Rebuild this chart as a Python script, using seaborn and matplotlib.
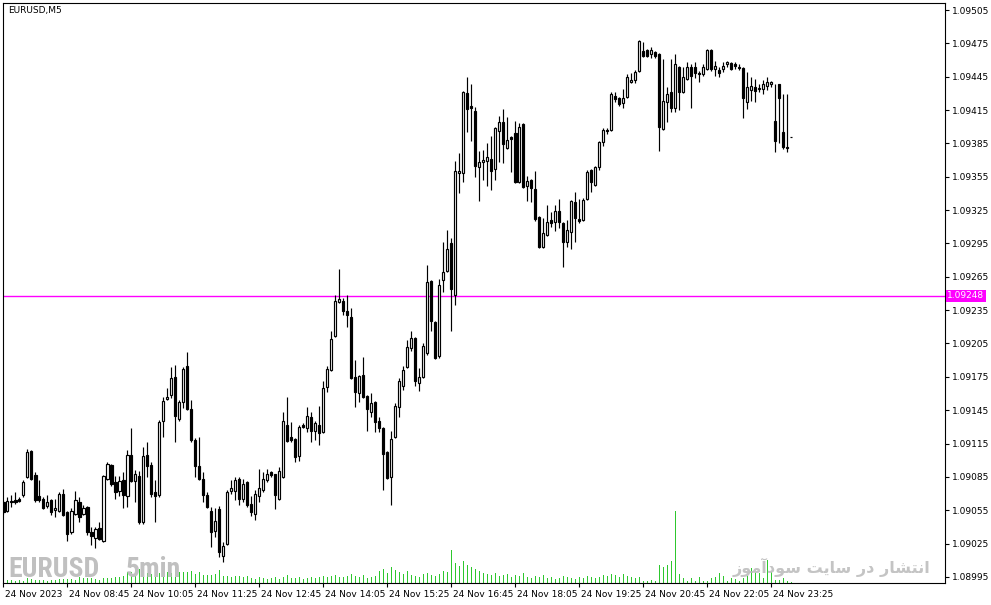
import numpy as np
import pandas as pd
import matplotlib
matplotlib.use("Agg")
import matplotlib.pyplot as plt
import matplotlib.transforms as mtransforms
import seaborn as sns

symbol_title = "EURUSD,M5"
time_labels = ["24 Nov 2023", "24 Nov 08:45", "24 Nov 10:05", "24 Nov 11:25", "24 Nov 12:45",
               "24 Nov 14:05", "24 Nov 15:25", "24 Nov 16:45", "24 Nov 18:05", "24 Nov 19:25",
               "24 Nov 20:45", "24 Nov 22:05", "24 Nov 23:25"]
time_label_bars = [0, 16, 32, 48, 64, 80, 96, 112, 128, 144, 160, 176, 192]
price_ticks = [1.08995, 1.09025, 1.09055, 1.09085, 1.09115, 1.09145, 1.09175, 1.09205, 1.09235,
               1.09265, 1.09295, 1.09325, 1.09355, 1.09385, 1.09415, 1.09445, 1.09475, 1.09505]
bid_price = 1.09248
watermark_symbol = "EURUSD"
watermark_tf = "5min"
watermark_fa = "انتشار در سایت سودآموز"

open_ = [
1.09062, 1.09054, 1.09062, 1.09064, 1.09065, 1.09069, 1.09085, 1.09108, 1.09087, 1.09068,
1.09065, 1.09059, 1.09064, 1.09055, 1.09054, 1.09070, 1.09053, 1.09035, 1.09052, 1.09062,
1.09052, 1.09058, 1.09035, 1.09030, 1.09039, 1.09027, 1.09083, 1.09096, 1.09080, 1.09072,
1.09082, 1.09068, 1.09105, 1.09081, 1.09086, 1.09044, 1.09105, 1.09096, 1.09071, 1.09069,
1.09135, 1.09155, 1.09159, 1.09175, 1.09137, 1.09152, 1.09185, 1.09146, 1.09118, 1.09095,
1.09083, 1.09069, 1.09054, 1.09036, 1.09056, 1.09014, 1.09025, 1.09072, 1.09072, 1.09083,
1.09065, 1.09080, 1.09061, 1.09052, 1.09068, 1.09073, 1.09082, 1.09089, 1.09088, 1.09065,
1.09085, 1.09132, 1.09121, 1.09119, 1.09104, 1.09132, 1.09129, 1.09139, 1.09126, 1.09132,
1.09125, 1.09166, 1.09181, 1.09212, 1.09242, 1.09243, 1.09234, 1.09229, 1.09175, 1.09160,
1.09177, 1.09158, 1.09143, 1.09152, 1.09135, 1.09129, 1.09107, 1.09085, 1.09121, 1.09148,
1.09167, 1.09184, 1.09201, 1.09210, 1.09169, 1.09175, 1.09196, 1.09261, 1.09224, 1.09194,
1.09262, 1.09270, 1.09295, 1.09249, 1.09358, 1.09358, 1.09430, 1.09419, 1.09414, 1.09364,
1.09368, 1.09369, 1.09371, 1.09362, 1.09396, 1.09404, 1.09381, 1.09391, 1.09394, 1.09350,
1.09402, 1.09347, 1.09352, 1.09344, 1.09319, 1.09292, 1.09303, 1.09316, 1.09314, 1.09324,
1.09313, 1.09296, 1.09305, 1.09332, 1.09317, 1.09316, 1.09335, 1.09361, 1.09348, 1.09364,
1.09386, 1.09397, 1.09397, 1.09428, 1.09426, 1.09421, 1.09427, 1.09440, 1.09442, 1.09450,
1.09468, 1.09469, 1.09465, 1.09467, 1.09465, 1.09398, 1.09422, 1.09431, 1.09417, 1.09454,
1.09431, 1.09443, 1.09454, 1.09454, 1.09448, 1.09447, 1.09452, 1.09469, 1.09452, 1.09451,
1.09452, 1.09456, 1.09457, 1.09456, 1.09454, 1.09453, 1.09422, 1.09433, 1.09436, 1.09434,
1.09434, 1.09437, 1.09438, 1.09405, 1.09438, 1.09395, 1.09382, 1.09391]

high = [
1.09063, 1.09067, 1.09069, 1.09071, 1.09067, 1.09082, 1.09110, 1.09109, 1.09089, 1.09082,
1.09067, 1.09069, 1.09065, 1.09065, 1.09071, 1.09074, 1.09054, 1.09057, 1.09072, 1.09067,
1.09060, 1.09059, 1.09040, 1.09040, 1.09044, 1.09087, 1.09098, 1.09097, 1.09086, 1.09086,
1.09089, 1.09109, 1.09129, 1.09091, 1.09090, 1.09112, 1.09116, 1.09098, 1.09082, 1.09136,
1.09157, 1.09165, 1.09184, 1.09186, 1.09154, 1.09184, 1.09197, 1.09154, 1.09120, 1.09121,
1.09089, 1.09071, 1.09058, 1.09057, 1.09059, 1.09026, 1.09073, 1.09082, 1.09085, 1.09085,
1.09083, 1.09081, 1.09068, 1.09073, 1.09092, 1.09089, 1.09092, 1.09090, 1.09088, 1.09094,
1.09143, 1.09157, 1.09134, 1.09120, 1.09132, 1.09133, 1.09148, 1.09143, 1.09135, 1.09149,
1.09171, 1.09185, 1.09216, 1.09249, 1.09272, 1.09246, 1.09249, 1.09237, 1.09190, 1.09177,
1.09193, 1.09159, 1.09160, 1.09153, 1.09139, 1.09130, 1.09108, 1.09126, 1.09151, 1.09174,
1.09185, 1.09208, 1.09216, 1.09211, 1.09183, 1.09205, 1.09276, 1.09262, 1.09225, 1.09263,
1.09296, 1.09307, 1.09300, 1.09369, 1.09376, 1.09432, 1.09445, 1.09438, 1.09418, 1.09378,
1.09379, 1.09385, 1.09392, 1.09400, 1.09410, 1.09416, 1.09409, 1.09392, 1.09405, 1.09403,
1.09403, 1.09356, 1.09353, 1.09360, 1.09320, 1.09318, 1.09330, 1.09323, 1.09330, 1.09335,
1.09314, 1.09316, 1.09334, 1.09341, 1.09335, 1.09336, 1.09361, 1.09362, 1.09365, 1.09387,
1.09399, 1.09399, 1.09431, 1.09431, 1.09427, 1.09434, 1.09447, 1.09448, 1.09451, 1.09478,
1.09476, 1.09470, 1.09472, 1.09468, 1.09466, 1.09461, 1.09436, 1.09461, 1.09465, 1.09455,
1.09454, 1.09458, 1.09456, 1.09458, 1.09450, 1.09456, 1.09470, 1.09470, 1.09459, 1.09454,
1.09458, 1.09459, 1.09458, 1.09458, 1.09456, 1.09454, 1.09449, 1.09445, 1.09443, 1.09438,
1.09442, 1.09445, 1.09441, 1.09438, 1.09438, 1.09429, 1.09429, 1.09391]

low = [
1.09052, 1.09053, 1.09058, 1.09061, 1.09062, 1.09067, 1.09084, 1.09082, 1.09062, 1.09062,
1.09056, 1.09057, 1.09051, 1.09049, 1.09053, 1.09050, 1.09027, 1.09034, 1.09051, 1.09044,
1.09051, 1.09033, 1.09024, 1.09021, 1.09028, 1.09026, 1.09082, 1.09077, 1.09065, 1.09068,
1.09057, 1.09058, 1.09080, 1.09062, 1.09043, 1.09043, 1.09085, 1.09067, 1.09044, 1.09067,
1.09121, 1.09154, 1.09156, 1.09116, 1.09135, 1.09147, 1.09145, 1.09116, 1.09085, 1.09082,
1.09062, 1.09057, 1.09022, 1.09031, 1.09013, 1.09008, 1.09024, 1.09070, 1.09064, 1.09060,
1.09062, 1.09058, 1.09050, 1.09046, 1.09062, 1.09071, 1.09080, 1.09085, 1.09056, 1.09064,
1.09084, 1.09116, 1.09116, 1.09098, 1.09099, 1.09129, 1.09125, 1.09116, 1.09118, 1.09114,
1.09124, 1.09161, 1.09180, 1.09211, 1.09241, 1.09231, 1.09220, 1.09173, 1.09148, 1.09152,
1.09156, 1.09126, 1.09139, 1.09125, 1.09125, 1.09073, 1.09083, 1.09060, 1.09120, 1.09139,
1.09163, 1.09183, 1.09198, 1.09167, 1.09162, 1.09174, 1.09195, 1.09216, 1.09191, 1.09192,
1.09251, 1.09269, 1.09216, 1.09240, 1.09340, 1.09350, 1.09395, 1.09387, 1.09355, 1.09333,
1.09352, 1.09347, 1.09343, 1.09352, 1.09368, 1.09367, 1.09380, 1.09359, 1.09349, 1.09349,
1.09345, 1.09333, 1.09332, 1.09315, 1.09291, 1.09291, 1.09302, 1.09310, 1.09306, 1.09309,
1.09274, 1.09292, 1.09290, 1.09296, 1.09313, 1.09315, 1.09334, 1.09341, 1.09347, 1.09361,
1.09383, 1.09393, 1.09396, 1.09422, 1.09419, 1.09417, 1.09426, 1.09439, 1.09439, 1.09449,
1.09463, 1.09463, 1.09462, 1.09462, 1.09378, 1.09397, 1.09404, 1.09413, 1.09413, 1.09415,
1.09430, 1.09442, 1.09417, 1.09444, 1.09440, 1.09446, 1.09451, 1.09450, 1.09446, 1.09445,
1.09449, 1.09454, 1.09451, 1.09452, 1.09451, 1.09408, 1.09416, 1.09423, 1.09422, 1.09431,
1.09429, 1.09433, 1.09436, 1.09377, 1.09385, 1.09380, 1.09377, 1.09391]

close = [
1.09053, 1.09063, 1.09063, 1.09062, 1.09063, 1.09080, 1.09107, 1.09083, 1.09064, 1.09064,
1.09057, 1.09062, 1.09053, 1.09057, 1.09070, 1.09051, 1.09034, 1.09054, 1.09064, 1.09049,
1.09057, 1.09035, 1.09032, 1.09038, 1.09029, 1.09086, 1.09097, 1.09079, 1.09071, 1.09081,
1.09069, 1.09105, 1.09081, 1.09088, 1.09044, 1.09104, 1.09095, 1.09070, 1.09068, 1.09134,
1.09153, 1.09157, 1.09174, 1.09140, 1.09152, 1.09182, 1.09146, 1.09118, 1.09095, 1.09083,
1.09069, 1.09058, 1.09035, 1.09045, 1.09017, 1.09023, 1.09071, 1.09075, 1.09082, 1.09065,
1.09079, 1.09060, 1.09053, 1.09070, 1.09075, 1.09083, 1.09088, 1.09087, 1.09069, 1.09090,
1.09135, 1.09117, 1.09118, 1.09103, 1.09130, 1.09130, 1.09140, 1.09126, 1.09133, 1.09124,
1.09165, 1.09182, 1.09209, 1.09243, 1.09245, 1.09234, 1.09231, 1.09174, 1.09161, 1.09176,
1.09157, 1.09146, 1.09151, 1.09134, 1.09129, 1.09106, 1.09084, 1.09119, 1.09149, 1.09171,
1.09181, 1.09202, 1.09210, 1.09171, 1.09175, 1.09203, 1.09260, 1.09225, 1.09192, 1.09258,
1.09269, 1.09290, 1.09254, 1.09360, 1.09360, 1.09431, 1.09416, 1.09417, 1.09365, 1.09368,
1.09370, 1.09373, 1.09360, 1.09399, 1.09404, 1.09384, 1.09388, 1.09389, 1.09350, 1.09400,
1.09346, 1.09351, 1.09345, 1.09317, 1.09292, 1.09304, 1.09314, 1.09313, 1.09324, 1.09314,
1.09296, 1.09307, 1.09333, 1.09318, 1.09315, 1.09334, 1.09359, 1.09350, 1.09364, 1.09386,
1.09397, 1.09396, 1.09429, 1.09425, 1.09420, 1.09426, 1.09445, 1.09442, 1.09449, 1.09477,
1.09464, 1.09464, 1.09469, 1.09464, 1.09400, 1.09423, 1.09429, 1.09417, 1.09456, 1.09431,
1.09445, 1.09454, 1.09446, 1.09448, 1.09447, 1.09454, 1.09469, 1.09452, 1.09455, 1.09448,
1.09455, 1.09458, 1.09452, 1.09455, 1.09453, 1.09426, 1.09436, 1.09437, 1.09432, 1.09435,
1.09438, 1.09440, 1.09440, 1.09387, 1.09426, 1.09382, 1.09381, 1.09391]

tick_volume = [
3, 3, 3, 2, 3, 2, 5, 4, 3, 3, 3, 2, 3, 3, 4, 4, 4, 4, 3, 6,
5, 5, 5, 4, 3, 5, 5, 5, 6, 6, 7, 11, 11, 11, 14, 15, 10, 9, 10, 10,
10, 11, 10, 15, 11, 11, 11, 12, 9, 11, 8, 8, 8, 9, 13, 7, 7, 6, 7, 7,
6, 7,
5, 4, 6, 5, 4, 5, 6, 4,
6, 8, 5, 5, 6, 4, 5, 6, 5, 6,
7, 6, 7, 8, 6, 6,
7, 9, 7, 6, 8, 5, 6, 7,
12, 14, 10, 16, 13, 11, 9, 12,
8, 7, 6, 9, 10, 8, 7, 9,
12, 11, 33,
20, 17, 22, 18, 16, 14, 12, 10,
9, 8, 10, 7, 8, 9, 6, 8, 7, 10, 6, 5, 7, 6, 8,
5, 6, 4, 5, 7, 6, 5, 4, 6, 5, 7, 6,
5, 6, 8, 7, 9, 8, 6, 9, 7, 6, 5, 6,
2, 2, 3, 2, 18, 16, 18, 22, 72, 9, 5, 2, 5, 2, 6, 2, 2, 5, 6, 10,
7, 2, 5, 4, 2, 5, 10, 15, 11, 10, 5, 23, 12, 3, 3, 5, 2, 1]

# ---- simple Arabic-script shaping (presentation forms), drawn LTR ----
FORMS = {
    'ا': ('\uFE8D', '\uFE8E', None, None),
    'آ': ('\uFE81', '\uFE82', None, None),
    'ن': ('\uFEE5', '\uFEE6', '\uFEE7', '\uFEE8'),
    'ت': ('\uFE95', '\uFE96', '\uFE97', '\uFE98'),
    'ش': ('\uFEB5', '\uFEB6', '\uFEB7', '\uFEB8'),
    'ر': ('\uFEAD', '\uFEAE', None, None),
    'د': ('\uFEA9', '\uFEAA', None, None),
    'س': ('\uFEB1', '\uFEB2', '\uFEB3', '\uFEB4'),
    'ی': ('\uFBFC', '\uFBFD', '\uFEF3', '\uFEF4'),
    'و': ('\uFEED', '\uFEEE', None, None),
    'م': ('\uFEE1', '\uFEE2', '\uFEE3', '\uFEE4'),
    'ز': ('\uFEAF', '\uFEB0', None, None),
}


def shape(text):
    chars = list(text)
    out = []
    for i, ch in enumerate(chars):
        if ch not in FORMS:
            out.append(ch)
            continue
        prev = chars[i - 1] if i > 0 else None
        nxt = chars[i + 1] if i + 1 < len(chars) else None
        joins_prev = prev in FORMS and FORMS[prev][2] is not None
        joins_next = nxt in FORMS and FORMS[ch][2] is not None
        iso, fin, ini, med = FORMS[ch]
        if joins_prev and joins_next:
            out.append(med)
        elif joins_prev:
            out.append(fin)
        elif joins_next:
            out.append(ini)
        else:
            out.append(iso)
    return ''.join(reversed(out))


sns.set_style("white")
plt.rcParams['font.family'] = ['DejaVu Sans']

df = pd.DataFrame({"open": open_, "high": high, "low": low, "close": close, "volume": tick_volume})
df["bar"] = np.arange(len(df))
df["bull"] = df["close"] >= df["open"]
df["body_lo"] = df[["open", "close"]].min(axis=1)
df["body_h"] = (df["close"] - df["open"]).abs()

W, H = 991, 605
fig = plt.figure(figsize=(W / 100, H / 100), dpi=100)
fig.patch.set_facecolor("white")
rect = [3 / W, (H - 583) / H, 942 / W, 580 / H]
xlim = (-0.1, 235.4)

# volume histogram (underneath)
axv = fig.add_axes(rect)
sns.barplot(data=df, x="bar", y="volume", native_scale=True, width=0.4, color="#2EC72E",
            saturation=1, linewidth=0, errorbar=None, ax=axv)
axv.set_xlim(*xlim)
axv.set_ylim(0, 580)
axv.axis("off")

# watermarks (over the volume, under the candles)
wm_family = ["Roboto Condensed", "Roboto", "DejaVu Sans"]
fig.text(8 / W, 1 - 577 / H, watermark_symbol, fontsize=20, fontweight="bold", color="#c0c0c0",
         family=wm_family, ha="left", va="baseline", zorder=0.5)
fig.text(126 / W, 1 - 577 / H, watermark_tf, fontsize=20, fontweight="bold", color="#c0c0c0",
         family=wm_family, ha="left", va="baseline", zorder=0.5)
fig.text(930 / W, 1 - 573 / H, shape(watermark_fa), fontsize=11.5, fontweight="bold", color="#c4c4c4",
         family=["DejaVu Sans"], ha="right", va="baseline", zorder=0.5)

# price axes
ax = fig.add_axes(rect)
ax.set_zorder(1)
ax.patch.set_alpha(0)
ax.set_xlim(*xlim)
ax.set_ylim(1.089895, 1.095113)

ax.vlines(df["bar"], df["low"], df["high"], color="black", lw=0.85, zorder=2)
ax.bar(df["bar"], df["body_h"], bottom=df["body_lo"], width=0.55,
       color=np.where(df["bull"], "white", "black"), edgecolor="black",
       linewidth=0.85, zorder=3)

ax.axhline(bid_price, color="#FF00FF", lw=1, zorder=1)
trans = mtransforms.blended_transform_factory(ax.transAxes, ax.transData)
ax.text(1.0025, bid_price, f"{bid_price:.5f}", transform=trans, color="white",
        fontsize=6.5, va="center", ha="left", clip_on=False, zorder=6,
        bbox=dict(boxstyle="square,pad=0.18", fc="#FF00FF", ec="none"))

ax.yaxis.tick_right()
ax.set_yticks(price_ticks)
ax.set_yticklabels([f"{v:.5f}" for v in price_ticks])
ax.tick_params(axis="y", direction="out", length=3, width=0.8, pad=2,
               labelsize=6.5, colors="black", right=True, left=False)
ax.set_xticks(time_label_bars)
ax.set_xticklabels(time_labels)
ax.tick_params(axis="x", direction="out", length=3, width=0.8, pad=2,
               labelsize=6.5, colors="black", bottom=True)
offset = mtransforms.ScaledTranslation(2 / 100, 0, fig.dpi_scale_trans)
for lab in ax.get_xticklabels():
    lab.set_horizontalalignment("left")
    lab.set_transform(lab.get_transform() + offset)
for sp in ax.spines.values():
    sp.set_visible(True)
    sp.set_color("black")
    sp.set_linewidth(0.8)
ax.grid(False)

fig.text(8 / W, 1 - 11 / H, symbol_title, fontsize=6.5, ha="left", va="center", color="black")

fig.savefig("out.png", dpi=100, facecolor="white")
